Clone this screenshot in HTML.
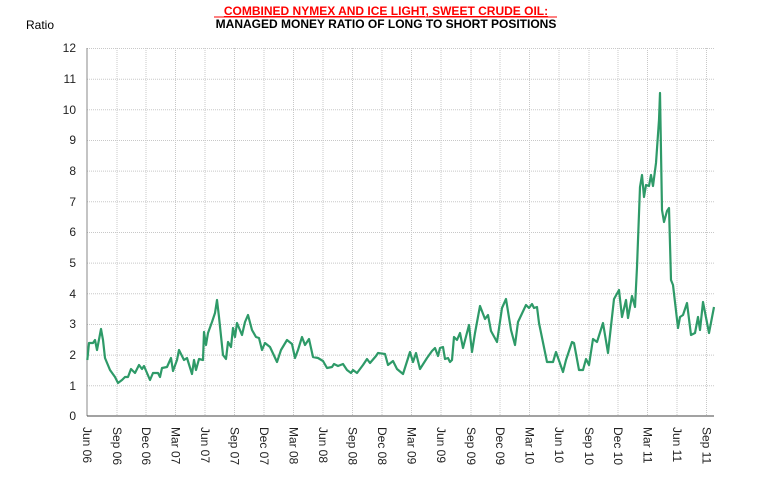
<!DOCTYPE html>
<html><head><meta charset="utf-8"><style>
body{margin:0;background:#fff;font-family:"Liberation Sans",Arial,sans-serif}
</style></head><body>
<svg width="768" height="483" xmlns="http://www.w3.org/2000/svg" font-family="Liberation Sans, Arial, sans-serif">
<text x="386" y="15" text-anchor="middle" font-size="12" font-weight="bold" fill="#f00" text-decoration="underline">COMBINED NYMEX AND ICE LIGHT, SWEET CRUDE OIL:</text>
<line x1="214" y1="17" x2="557" y2="17" stroke="#f00" stroke-width="1"/>
<text x="386" y="28" text-anchor="middle" font-size="12" font-weight="bold" fill="#000">MANAGED MONEY RATIO OF LONG TO SHORT POSITIONS</text>
<text x="26" y="29" font-size="12" fill="#000">Ratio</text>
<g stroke="#c8c8c8" stroke-width="1" stroke-dasharray="1,1">
<line x1="87" y1="48.5" x2="714" y2="48.5"/><line x1="87" y1="79.2" x2="714" y2="79.2"/><line x1="87" y1="109.8" x2="714" y2="109.8"/><line x1="87" y1="140.5" x2="714" y2="140.5"/><line x1="87" y1="171.1" x2="714" y2="171.1"/><line x1="87" y1="201.8" x2="714" y2="201.8"/><line x1="87" y1="232.5" x2="714" y2="232.5"/><line x1="87" y1="263.1" x2="714" y2="263.1"/><line x1="87" y1="293.8" x2="714" y2="293.8"/><line x1="87" y1="324.5" x2="714" y2="324.5"/><line x1="87" y1="355.1" x2="714" y2="355.1"/><line x1="87" y1="385.8" x2="714" y2="385.8"/>
<line x1="117" y1="48" x2="117" y2="416"/><line x1="146" y1="48" x2="146" y2="416"/><line x1="175.5" y1="48" x2="175.5" y2="416"/><line x1="205" y1="48" x2="205" y2="416"/><line x1="234.5" y1="48" x2="234.5" y2="416"/><line x1="264" y1="48" x2="264" y2="416"/><line x1="293.5" y1="48" x2="293.5" y2="416"/><line x1="323" y1="48" x2="323" y2="416"/><line x1="352.5" y1="48" x2="352.5" y2="416"/><line x1="382" y1="48" x2="382" y2="416"/><line x1="411.5" y1="48" x2="411.5" y2="416"/><line x1="441" y1="48" x2="441" y2="416"/><line x1="471" y1="48" x2="471" y2="416"/><line x1="500" y1="48" x2="500" y2="416"/><line x1="529.5" y1="48" x2="529.5" y2="416"/><line x1="559" y1="48" x2="559" y2="416"/><line x1="589" y1="48" x2="589" y2="416"/><line x1="618" y1="48" x2="618" y2="416"/><line x1="647.5" y1="48" x2="647.5" y2="416"/><line x1="677" y1="48" x2="677" y2="416"/><line x1="706.5" y1="48" x2="706.5" y2="416"/>
</g>
<line x1="87" y1="48" x2="87" y2="416" stroke="#888"/>
<line x1="87" y1="416" x2="714" y2="416" stroke="#444"/>
<g font-size="12" fill="#222" text-anchor="end">
<text x="76" y="52">12</text><text x="76" y="83">11</text><text x="76" y="114">10</text><text x="76" y="144">9</text><text x="76" y="175">8</text><text x="76" y="206">7</text><text x="76" y="236">6</text><text x="76" y="267">5</text><text x="76" y="298">4</text><text x="76" y="328">3</text><text x="76" y="359">2</text><text x="76" y="390">1</text><text x="76" y="420">0</text>
</g>
<g font-size="12" fill="#222">
<text transform="translate(83,427) rotate(90)">Jun 06</text>
<text transform="translate(113,427) rotate(90)">Sep 06</text>
<text transform="translate(142,427) rotate(90)">Dec 06</text>
<text transform="translate(171.5,427) rotate(90)">Mar 07</text>
<text transform="translate(201,427) rotate(90)">Jun 07</text>
<text transform="translate(230.5,427) rotate(90)">Sep 07</text>
<text transform="translate(260,427) rotate(90)">Dec 07</text>
<text transform="translate(289.5,427) rotate(90)">Mar 08</text>
<text transform="translate(319,427) rotate(90)">Jun 08</text>
<text transform="translate(348.5,427) rotate(90)">Sep 08</text>
<text transform="translate(378,427) rotate(90)">Dec 08</text>
<text transform="translate(407.5,427) rotate(90)">Mar 09</text>
<text transform="translate(437,427) rotate(90)">Jun 09</text>
<text transform="translate(467,427) rotate(90)">Sep 09</text>
<text transform="translate(496,427) rotate(90)">Dec 09</text>
<text transform="translate(525.5,427) rotate(90)">Mar 10</text>
<text transform="translate(555,427) rotate(90)">Jun 10</text>
<text transform="translate(585,427) rotate(90)">Sep 10</text>
<text transform="translate(614,427) rotate(90)">Dec 10</text>
<text transform="translate(643.5,427) rotate(90)">Mar 11</text>
<text transform="translate(673,427) rotate(90)">Jun 11</text>
<text transform="translate(702.5,427) rotate(90)">Sep 11</text>
</g>
<polyline fill="none" stroke="#2e9a68" stroke-width="2.2" stroke-linejoin="round" points="87.3,360 89,343 93,343 95,340 97,350 101,329 103,340 105,358 110,370 115,377 118,383 122,380 125,377 128,377 131,369 135,373 139,365 142,369 144,366 150,380 153,373 158,373 160,377 162,368 167,367 171,358 173,371 177,360 179,350 184,360 187,358 192,374 194,360 196,370 199,359 203,360 204,332 206,345 208,333 212,322 215,313 217,300 219,317 223,355 226,359 228,342 231,347 233,328 235,337 237,323 242,335 245,322 248,315 252,330 256,337 259,338 262,350 265,343 270,347 277,362 281,350 287,340 292,344 295,358 298,350 302,337 305,345 309,339 313,357 318,358 323,361 327,368 332,367 334,364 338,366 343,364 347,370 351,373 353,370 357,373 363,365 367,359 370,363 376,356 378,353 385,354 388,365 393,361 397,369 403,374 410,352 413,362 416,353 420,369 427,358 432,351 435,348 438,356 440,348 443,347 445,359 448,358 450,362 452,360 454,337 457,340 460,333 463,348 469,325 472,352 475,333 480,306 485,319 488,315 491,331 497,342 502,308 506,299 511,330 515,345 518,322 526,305 529,308 532,304 534,308 537,307 539,323 547,362 553,362 556,352 563,372 566,360 572,342 574,343 579,370 583,370 586,359 589,365 593,339 597,342 603,323 608,353 614,299 619,290 622,317 626,300 628,318 632,296 635,307 637,267 640,187 642,175 644,197 646,185 649,186 651,175 653,186 656,163 659,120 660,93 662,210 664,222 667,211 669,208 671,280 673,285 678,328 680,317 683,315 687,303 691,335 695,333 698,317 700,330 703,302 709,333 714,307"/>
</svg>
</body></html>
